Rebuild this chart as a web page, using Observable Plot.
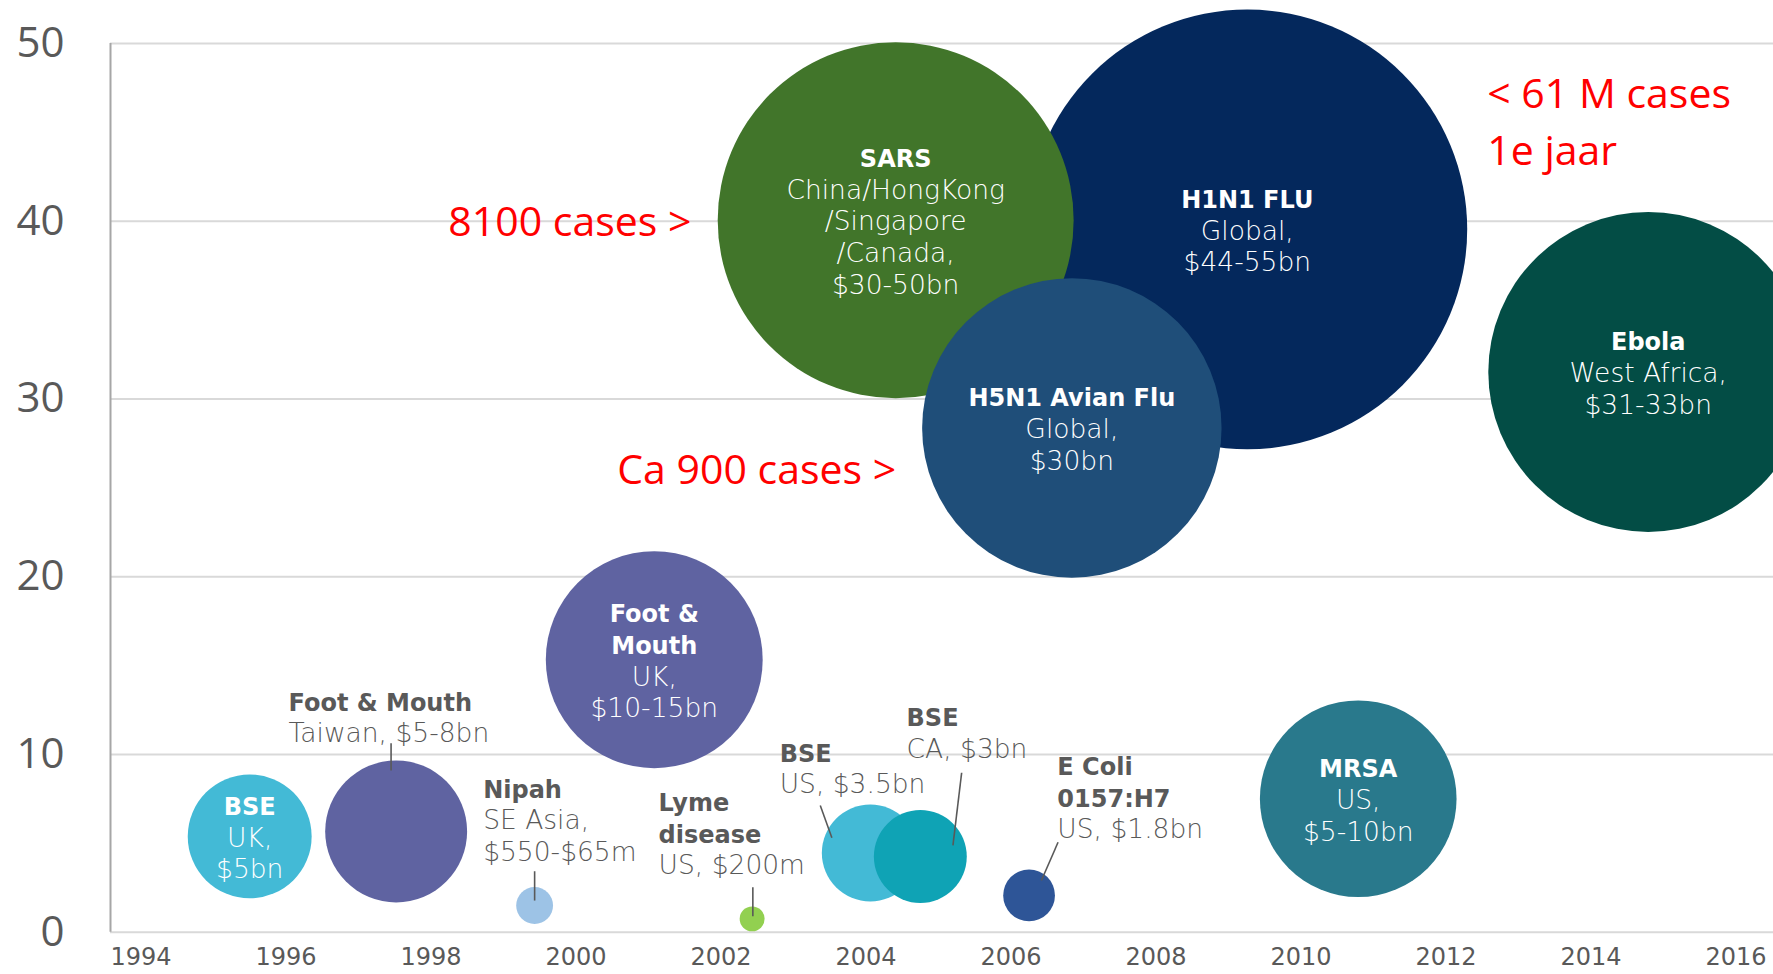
<!DOCTYPE html>
<html><head><meta charset="utf-8">
<script src="https://cdn.jsdelivr.net/npm/d3@7"></script>
<script src="https://cdn.jsdelivr.net/npm/@observablehq/plot@0.6"></script>
<style>html,body{margin:0;padding:0;background:#fff;overflow:hidden}</style>
</head><body><div id="chart"></div>
<script>
// ---- data ----
const diseases = ["BSE UK","Foot & Mouth Taiwan","Nipah","Foot & Mouth UK","Lyme disease","BSE US","BSE CA","E Coli 0157:H7","SARS","H5N1 Avian Flu","H1N1 FLU","MRSA","Ebola"];
const years    = [1995.92, 1997.94, 1999.85, 2001.50, 2002.85, 2004.48, 2005.17, 2006.67, 2004.83, 2007.26, 2009.68, 2011.21, 2015.21];
const impact   = [5.39, 5.67, 1.50, 15.33, 0.75, 4.46, 4.26, 2.07, 40.06, 28.37, 39.54, 7.51, 31.52];
const bubbleSize = [38.4, 50.4, 3.4, 117.7, 1.56, 23.5, 21.6, 6.7, 317, 224.4, 484, 96.8, 256];
const colors   = ["#43BAD6","#5F63A1","#9DC3E6","#5F63A1","#92D050","#43BAD6","#0FA3B5","#2E5597","#41752A","#1F4E79","#04285C","#29798C","#034D45"];
const titleText  = ["BSE","Foot & Mouth","Nipah","Foot &\nMouth","Lyme\ndisease","BSE","BSE","E Coli\n0157:H7","SARS","H5N1 Avian Flu","H1N1 FLU","MRSA","Ebola"];
const detailText = ["UK,\n$5bn","Taiwan, $5-8bn","SE Asia,\n$550-$65m","UK,\n$10-15bn","US, $200m","US, $3.5bn","CA, $3bn","US, $1.8bn","China/HongKong\n/Singapore\n/Canada,\n$30-50bn","Global,\n$30bn","Global,\n$44-55bn","US,\n$5-10bn","West Africa,\n$31-33bn"];
const labelInside = [true,false,false,true,false,false,false,false,true,true,true,true,true];
// outside labels: anchor (left x, middle y) and leader lines, in data units
const labelX  = [null, 1996.455, 1999.14, null, 2001.56, 2003.23, 2004.98, 2007.06, null, null, null, null, null];
const labelY  = [null, 12.15, 6.36, null, 5.61, 9.27, 11.26, 7.63, null, null, null, null, null];
const leadX1  = [null, 1997.87, 1999.85, null, 2002.86, 2003.79, 2005.74, 2007.07, null, null, null, null, null];
const leadY1  = [null, 10.63, 3.43, null, 2.53, 7.13, 8.97, 5.06, null, null, null, null, null];
const leadX2  = [null, 1997.87, 1999.85, null, 2002.86, 2003.95, 2005.62, 2006.84, null, null, null, null, null];
const leadY2  = [null, 9.10, 1.78, null, 0.90, 5.31, 4.88, 2.91, null, null, null, null, null];

const annoText = ["8100 cases >", "Ca 900 cases >", "< 61 M cases", "1e jaar"];
const annoX    = [1998.66, 2000.99, 2012.99, 2012.99];
const annoY    = [39.9, 25.96, 47.09, 43.9];

const xTicks = [1994,1996,1998,2000,2002,2004,2006,2008,2010,2012,2014,2016];
const yTicks = [0,10,20,30,40,50];

// ---- build tables ----
const bubbles = diseases.map((name, i) => ({
  name, year: years[i], value: impact[i], size: bubbleSize[i], color: colors[i],
  title: titleText[i], detail: detailText[i], inside: labelInside[i],
  lx: labelX[i], ly: labelY[i], x1: leadX1[i], y1: leadY1[i], x2: leadX2[i], y2: leadY2[i]
}));
const inside = bubbles.filter(d => d.inside);
const outside = bubbles.filter(d => !d.inside);
const annotations = annoText.map((t, i) => ({text: t, x: annoX[i], y: annoY[i]}));

const NB = "\u00a0";
const padTitle = d => [...d.title.split("\n"), ...d.detail.split("\n").map(() => NB)].join("\n");
const padDetail = d => [...d.title.split("\n").map(() => NB), ...d.detail.split("\n")].join("\n");

const FONT = "'DejaVu Sans', sans-serif";
const LINE_PX = 31.7;
const FS_B = 24, FS_L = 26.5;
const LH_B = LINE_PX / FS_B, LH_L = LINE_PX / FS_L;

const chart = Plot.plot({
  width: 1773, height: 974,
  marginLeft: 110, marginRight: 0, marginTop: 0, marginBottom: 42.3,
  style: {color: "#595959", background: "#fff"},
  x: {domain: [1994, 2016.938]},
  y: {domain: [0, 52.42]},
  r: {type: "sqrt", domain: [0, 484], range: [0, 219.9]},
  color: {type: "identity"},
  marks: [
    Plot.gridY(yTicks, {stroke: "#D9D9D9", strokeOpacity: 1, strokeWidth: 2}),
    Plot.ruleX([1994], {y1: 0, y2: 50, stroke: "#A6A6A6", strokeWidth: 2}),
    Plot.axisY({ticks: yTicks, tickSize: 0, tickPadding: 46, fontSize: 42, fontFamily: "'Open Sans', sans-serif", color: "#595959", label: null}),
    Plot.axisX({ticks: xTicks, tickSize: 0, tickPadding: 16, textAnchor: "start", fontSize: 24, fontFamily: FONT, color: "#595959", label: null, tickFormat: d => String(d)}),
    Plot.dot(bubbles, {x: "year", y: "value", r: "size", fill: "color", stroke: null}),
    Plot.text(inside, {x: "year", y: "value", text: padTitle, fill: "#fff", fontWeight: 700, fontSize: FS_B, lineHeight: LH_B, textAnchor: "middle", fontFamily: FONT}),
    Plot.text(inside, {x: "year", y: "value", text: padDetail, fill: "#fff", fontWeight: 300, fontSize: FS_L, lineHeight: LH_L, textAnchor: "middle", fontFamily: FONT}),
    Plot.link(outside, {x1: "x1", y1: "y1", x2: "x2", y2: "y2", stroke: "#595959", strokeWidth: 1.6}),
    Plot.text(outside, {x: "lx", y: "ly", text: padTitle, fill: "#595959", fontWeight: 700, fontSize: FS_B, lineHeight: LH_B, textAnchor: "start", fontFamily: FONT}),
    Plot.text(outside, {x: "lx", y: "ly", text: padDetail, fill: "#595959", fontWeight: 300, fontSize: FS_L, lineHeight: LH_L, textAnchor: "start", fontFamily: FONT}),
    Plot.text(annotations, {x: "x", y: "y", text: "text", fill: "#FF0000", fontSize: 41, textAnchor: "start", fontFamily: "'Open Sans', sans-serif"})
  ]
});
document.getElementById("chart").appendChild(chart);
</script>
</body></html>
